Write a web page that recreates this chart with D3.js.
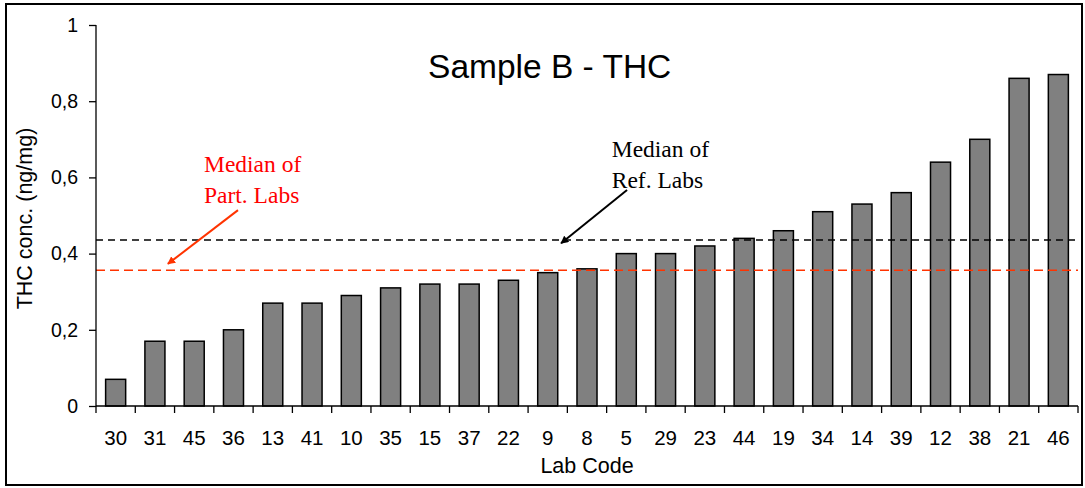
<!DOCTYPE html>
<html>
<head>
<meta charset="utf-8">
<style>
  body { margin: 0; background: #fff; }
  svg { display: block; font-family: Arial, "Liberation Sans", sans-serif; }
</style>
</head>
<body>
<svg></svg>
<script src="https://d3js.org/d3.v7.min.js"></script>
<script>

// data
var labCodes = ["30", "31", "45", "36", "13", "41", "10", "35", "15", "37", "22", "9", "8",
                "5", "29", "23", "44", "19", "34", "14", "39", "12", "38", "21", "46"];
var thcValues = [0.07, 0.17, 0.17, 0.20, 0.27, 0.27, 0.29, 0.31, 0.32, 0.32, 0.33, 0.35, 0.36,
                 0.40, 0.40, 0.42, 0.44, 0.46, 0.51, 0.53, 0.56, 0.64, 0.70, 0.86, 0.87];
var yTicks = [0, 0.2, 0.4, 0.6, 0.8, 1];
var medianRef = 0.436;
var medianPart = 0.356;

var data = labCodes.map(function(c, i) { return {code: c, value: thcValues[i]}; });

var W = 1085, H = 488;
var margin = {top: 25, right: 7, bottom: 82, left: 96},
    width = W - margin.left - margin.right,
    height = H - margin.top - margin.bottom;

var svg = d3.select("svg").attr("width", W).attr("height", H);

// outer frame
svg.append("rect")
    .attr("x", 6).attr("y", 4).attr("width", 1076).attr("height", 481)
    .attr("fill", "none").attr("stroke", "#000").attr("stroke-width", 2);

var g = svg.append("g")
    .attr("transform", "translate(" + margin.left + "," + margin.top + ")");

var x = d3.scaleBand().domain(labCodes).range([0, width])
    .paddingInner(0.49).paddingOuter(0.245);
// category index scale, used for tick marks between categories and annotations
var xi = d3.scaleLinear().domain([0, labCodes.length]).range([0, width]);
var y = d3.scaleLinear().domain([0, 1]).range([height, 0]);

// bars
g.selectAll(".bar")
    .data(data)
  .enter().append("rect")
    .attr("class", "bar")
    .attr("x", function(d) { return x(d.code); })
    .attr("y", function(d) { return y(d.value); })
    .attr("width", x.bandwidth())
    .attr("height", function(d) { return height - y(d.value); })
    .attr("fill", "#808080")
    .attr("stroke", "#000")
    .attr("stroke-width", 1.5);

// median lines
g.append("line")
    .attr("x1", 0).attr("x2", width)
    .attr("y1", y(medianRef)).attr("y2", y(medianRef))
    .attr("stroke", "#000").attr("stroke-width", 1.5)
    .attr("stroke-dasharray", "7,5");

g.append("line")
    .attr("x1", 0).attr("x2", width)
    .attr("y1", y(medianPart)).attr("y2", y(medianPart))
    .attr("stroke", "#ff3300").attr("stroke-width", 1.5)
    .attr("stroke-dasharray", "9,5");

// y axis
var fmt = function(d) { return (d === 0 || d === 1) ? String(d) : d3.format(".1f")(d).replace(".", ","); };
var yAxis = g.append("g")
    .call(d3.axisLeft(y).tickValues(yTicks).tickFormat(fmt).tickSize(7).tickPadding(11));
yAxis.selectAll("text").attr("font-size", 19.5).attr("fill", "#000")
    .attr("font-family", "Arial, 'Liberation Sans', sans-serif");
yAxis.selectAll("line, path").attr("stroke", "#000").attr("stroke-width", 1.3);
yAxis.select(".domain").attr("d", "M0," + (height + 0.5) + "V0");

// x axis: line, ticks between categories, labels centred
var xAxis = g.append("g")
    .attr("transform", "translate(0," + height + ")")
    .call(d3.axisBottom(x).tickSize(0).tickPadding(24));
xAxis.select(".domain").attr("d", "M0,0H" + width).attr("stroke", "#000").attr("stroke-width", 1.3);
xAxis.selectAll("text").attr("font-size", 20.5).attr("fill", "#000")
    .attr("font-family", "Arial, 'Liberation Sans', sans-serif");

xAxis.selectAll(".sep")
    .data(d3.range(labCodes.length + 1))
  .enter().append("line")
    .attr("class", "sep")
    .attr("x1", function(i) { return xi(i); }).attr("x2", function(i) { return xi(i); })
    .attr("y1", 0).attr("y2", 7)
    .attr("stroke", "#000").attr("stroke-width", 1.3);

// axis titles
g.append("text")
    .attr("x", width / 2).attr("y", height + 67)
    .attr("text-anchor", "middle")
    .attr("font-size", 21.5)
    .text("Lab Code");

g.append("text")
    .attr("transform", "translate(" + (-64) + "," + (height / 2 + 3) + ") rotate(-90)")
    .attr("text-anchor", "middle")
    .attr("font-size", 21.5)
    .text("THC conc. (ng/mg)");

// chart title
g.append("text")
    .attr("x", xi(11.55)).attr("y", y(0.86))
    .attr("text-anchor", "middle")
    .attr("font-size", 33.5)
    .text("Sample B - THC");

// annotations
var defs = svg.append("defs");
[["arrRed", "#ff3300"], ["arrBlack", "#000"]].forEach(function(a) {
  defs.append("marker")
      .attr("id", a[0])
      .attr("viewBox", "0 0 10 10")
      .attr("refX", 9).attr("refY", 5)
      .attr("markerWidth", 8).attr("markerHeight", 8)
      .attr("markerUnits", "userSpaceOnUse")
      .attr("orient", "auto")
    .append("path")
      .attr("d", "M0,0L10,5L0,10z")
      .attr("fill", a[1]);
});

var notes = [
  {lines: ["Median of", "Part. Labs"], color: "#ff0000", at: [2.75, 0.613],
   arrow: [[3.615, 0.514], [1.83, 0.373]], arrowColor: "#ff3300", marker: "arrRed"},
  {lines: ["Median of", "Ref. Labs"], color: "#000", at: [13.13, 0.654],
   arrow: [[13.52, 0.567], [11.84, 0.427]], arrowColor: "#000", marker: "arrBlack"}
];

notes.forEach(function(n) {
  var t = g.append("text")
      .attr("x", xi(n.at[0])).attr("y", y(n.at[1]))
      .attr("fill", n.color)
      .attr("font-family", "'Liberation Serif', 'Times New Roman', serif")
      .attr("font-size", 23.5);
  n.lines.forEach(function(s, k) {
    t.append("tspan").attr("x", xi(n.at[0])).attr("dy", k === 0 ? 0 : 31).text(s);
  });
  g.append("line")
      .attr("x1", xi(n.arrow[0][0])).attr("y1", y(n.arrow[0][1]))
      .attr("x2", xi(n.arrow[1][0])).attr("y2", y(n.arrow[1][1]))
      .attr("stroke", n.arrowColor).attr("stroke-width", 2)
      .attr("marker-end", "url(#" + n.marker + ")");
});

</script>
</body>
</html>
